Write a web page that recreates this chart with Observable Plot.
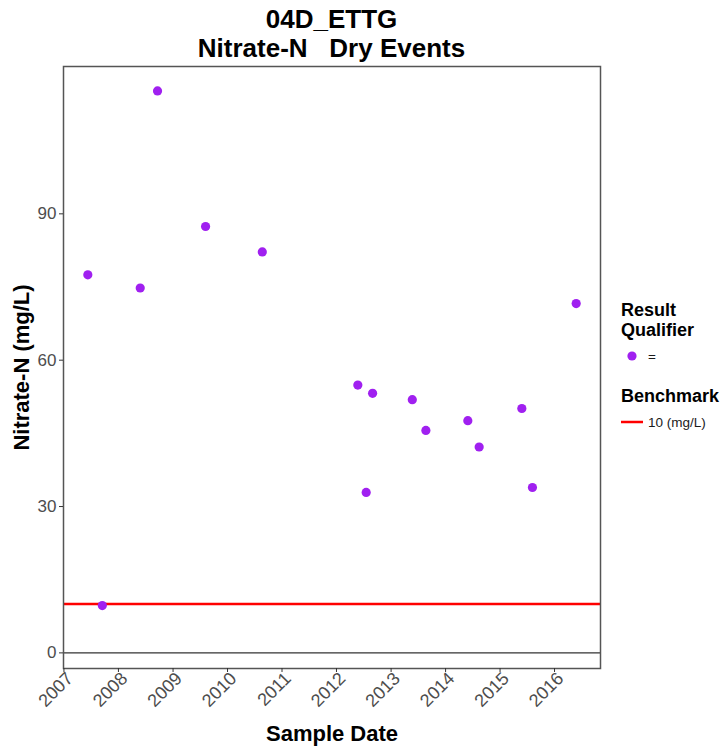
<!DOCTYPE html>
<html>
<head>
<meta charset="utf-8">
<script src="https://cdn.jsdelivr.net/npm/d3@7"></script>
<script src="https://cdn.jsdelivr.net/npm/@observablehq/plot@0.6"></script>
<style>
  html, body { margin: 0; padding: 0; background: #fff; }
  #wrap { position: relative; width: 727px; height: 746px; font-family: "Liberation Sans", Arial, sans-serif; }
  .title { position: absolute; left: 0; width: 663px; text-align: center; font-weight: bold; font-size: 26px; color: #000; white-space: pre; line-height: 1; }
  .leg-title { position: absolute; left: 621px; font-weight: bold; font-size: 18px; color: #000; line-height: 20px; }
  .leg-item { position: absolute; left: 621px; font-size: 13.5px; color: #1a1a1a; display: flex; align-items: center; }
  g[aria-label="y-axis label"] text, g[aria-label="x-axis label"] text { font-size: 22px; font-weight: bold; fill: #000; }
</style>
</head>
<body>
<div id="wrap"></div>
<script>
const titleLines = ["04D_ETTG", "Nitrate-N   Dry Events"];
const sampleDates = ["2007-06-10","2007-09-15","2008-05-26","2008-09-19","2009-08-07","2010-08-22",
  "2012-05-23","2012-07-18","2012-08-30","2013-05-23","2013-08-22","2014-05-30","2014-08-14",
  "2015-05-27","2015-08-06","2016-05-25"];
const nitrateValues = [77.5, 9.7, 74.8, 115.2, 87.4, 82.2, 54.9, 32.9, 53.2, 51.9, 45.6, 47.6, 42.2, 50.1, 33.9, 71.6];
const qualifiers = ["=","=","=","=","=","=","=","=","=","=","=","=","=","=","=","="];
const benchmarkValue = 10;
const benchmarkLabel = "10 (mg/L)";
const yearTicks = [2007, 2008, 2009, 2010, 2011, 2012, 2013, 2014, 2015, 2016];
const yTicks = [0, 30, 60, 90];
const xDomain = ["2006-12-29", "2016-11-04"];
const yDomain = [-3.2, 120.2];

const data = sampleDates.map((d, i) => ({date: new Date(d), value: nitrateValues[i], q: qualifiers[i]}));
const purple = "#a020f0";
const yearDates = yearTicks.map(y => new Date(Date.UTC(y, 0, 1)));

const plot = Plot.plot({
  width: 727,
  height: 746,
  marginTop: 66,
  marginRight: 127,
  marginBottom: 78,
  marginLeft: 63,
  style: {fontFamily: "Liberation Sans, Arial, sans-serif", background: "#fff"},
  x: {type: "utc", domain: xDomain.map(d => new Date(d))},
  y: {domain: yDomain},
  marks: [
    Plot.ruleY([0], {stroke: "#333", strokeWidth: 1.2}),
    Plot.ruleY([benchmarkValue], {stroke: "#ff0000", strokeWidth: 2.5}),
    Plot.dot(data, {x: "date", y: "value", r: 4.6, fill: purple, stroke: "none"}),
    Plot.frame({stroke: "#555", strokeWidth: 1.5}),
    Plot.axisX({
      ticks: yearDates, tickSize: 4, stroke: "#333", tickFormat: () => "", label: null
    }),
    Plot.axisX({
      ticks: yearDates, tickSize: 0, tickPadding: 7,
      tickFormat: "%Y", tickRotate: -45, dx: 6, dy: 0,
      fontSize: 18, color: "#4d4d4d", textStroke: "none",
      label: null
    }),
    Plot.axisX({
      ticks: [], tickSize: 0,
      label: "Sample Date", labelAnchor: "center", labelOffset: 72, labelArrow: "none"
    }),
    Plot.axisY({
      ticks: yTicks, tickSize: 4, tickPadding: 3,
      fontSize: 17, color: "#4d4d4d", stroke: "#333",
      label: "Nitrate-N (mg/L)", labelAnchor: "center", labelOffset: 50, labelArrow: "none"
    })
  ]
});

const wrap = document.getElementById("wrap");
wrap.appendChild(plot);

titleLines.forEach((t, i) => {
  const d = document.createElement("div");
  d.className = "title";
  d.style.top = (6 + i * 29) + "px";
  d.textContent = t;
  wrap.appendChild(d);
});

function legTitle(text, top) {
  const d = document.createElement("div");
  d.className = "leg-title";
  d.style.top = top + "px";
  d.innerHTML = text;
  wrap.appendChild(d);
}
function legItem(swatch, text, top) {
  const d = document.createElement("div");
  d.className = "leg-item";
  d.style.top = top + "px";
  d.innerHTML = swatch + '<span style="margin-left:5px">' + text + '</span>';
  wrap.appendChild(d);
}
legTitle("Result<br>Qualifier", 300);
legItem('<svg width="22" height="18"><circle cx="11" cy="9" r="4.6" fill="' + purple + '"/></svg>', qualifiers[0], 347);
legTitle("Benchmark", 386);
legItem('<svg width="22" height="18"><line x1="0" x2="22" y1="9" y2="9" stroke="#ff0000" stroke-width="2.5"/></svg>', benchmarkLabel, 413);
</script>
</body>
</html>
